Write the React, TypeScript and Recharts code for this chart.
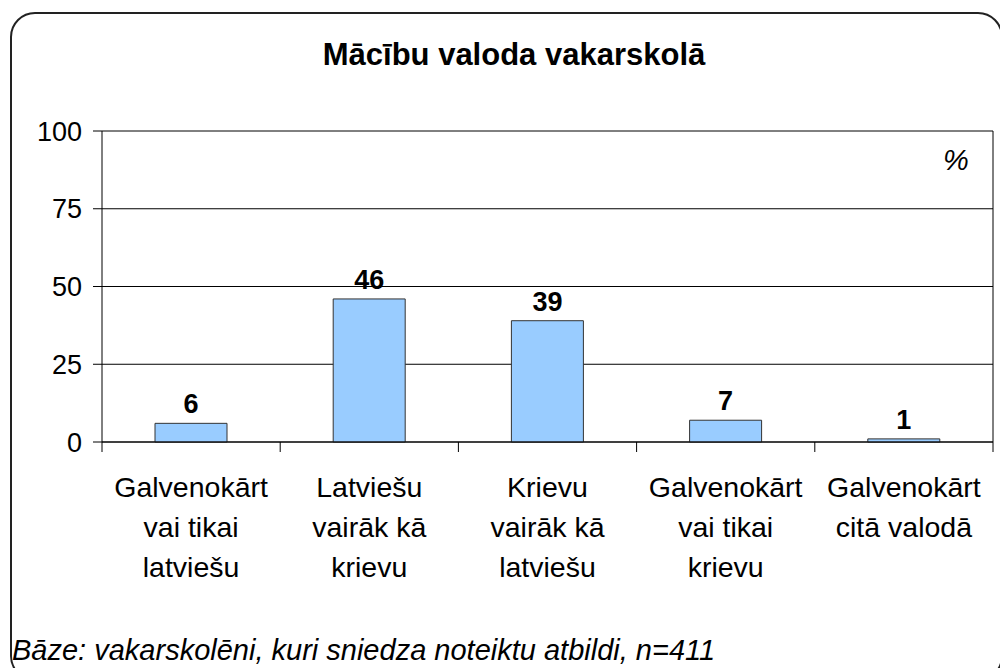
import React from 'react';
import { BarChart, Bar, XAxis, YAxis, CartesianGrid, LabelList } from 'recharts';

const categories = [
  'Galvenokārt\nvai tikai\nlatviešu',
  'Latviešu\nvairāk kā\nkrievu',
  'Krievu\nvairāk kā\nlatviešu',
  'Galvenokārt\nvai tikai\nkrievu',
  'Galvenokārt\ncitā valodā',
];
const values = [6, 46, 39, 7, 1];
const yTicks = [0, 25, 50, 75, 100];
const titleText = 'Mācību valoda vakarskolā';
const unitText = '%';
const footerText = 'Bāze: vakarskolēni, kuri sniedza noteiktu atbildi, n=411';

const data = categories.map((c, i) => ({ name: c, value: values[i] }));

const FONT = "'Liberation Sans', Arial, sans-serif";
const W = 1000;
const H = 668;
const PLOT_LEFT = 102;
const PLOT_RIGHT = 993;
const HALF_BAND = (PLOT_RIGHT - PLOT_LEFT) / categories.length / 2;

const XTick = (props: any) => {
  const { x, y, payload, index } = props;
  const lines = String(payload.value).split('\n');
  const last = index === categories.length - 1;
  return (
    <g>
      <line x1={x - HALF_BAND} x2={x - HALF_BAND} y1={y} y2={y + 10} stroke="#000" strokeWidth={1} />
      {last && <line x1={x + HALF_BAND} x2={x + HALF_BAND} y1={y} y2={y + 10} stroke="#000" strokeWidth={1} />}
      {lines.map((l, i) => (
        <text key={i} x={x} y={y + 55 + i * 40} textAnchor="middle" fontSize={28.5} fontFamily={FONT} fill="#000">
          {l}
        </text>
      ))}
    </g>
  );
};

export default function App() {
  return (
    <div style={{ position: 'absolute', left: 0, top: 0, width: W, height: H, overflow: 'hidden', background: '#fff' }}>
      <div
        style={{
          position: 'absolute',
          left: 10,
          top: 12,
          width: 993,
          height: 669,
          border: '2px solid #222',
          borderRadius: 25,
          boxSizing: 'border-box',
        }}
      />
      <div style={{ position: 'absolute', left: 0, top: 0 }}>
        <BarChart width={W} height={H} data={data} margin={{ top: 131, right: 0, bottom: 0, left: 0 }}>
          <CartesianGrid horizontal vertical={false} stroke="#000" strokeWidth={1} />
          <XAxis
            dataKey="name"
            interval={0}
            height={H - 442}
            tickLine={false}
            tickSize={0}
            tickMargin={0}
            axisLine={{ stroke: '#000' }}
            tick={<XTick />}
          />
          <YAxis
            domain={[0, 100]}
            ticks={yTicks}
            width={PLOT_LEFT}
            tickSize={9}
            tickMargin={11}
            axisLine={{ stroke: '#000' }}
            tickLine={{ stroke: '#000' }}
            tick={{ fill: '#000', fontSize: 27, fontFamily: FONT }}
          />
          <YAxis
            yAxisId="r"
            orientation="right"
            domain={[0, 100]}
            ticks={yTicks}
            width={W - PLOT_RIGHT}
            tick={false}
            tickLine={false}
            axisLine={{ stroke: '#000' }}
          />
          <Bar dataKey="value" fill="#99CCFF" stroke="#333" strokeWidth={1} barSize={72} isAnimationActive={false}>
            <LabelList
              dataKey="value"
              position="top"
              offset={10}
              fill="#000"
              fontSize={27}
              fontWeight="bold"
              fontFamily={FONT}
            />
          </Bar>
        </BarChart>
      </div>
      <svg width={W} height={H} style={{ position: 'absolute', left: 0, top: 0, pointerEvents: 'none' }}>
        <text x={514} y={65} textAnchor="middle" fontSize={31} fontWeight="bold" fontFamily={FONT} fill="#000">
          {titleText}
        </text>
        <text x={943} y={170} fontSize={29} fontStyle="italic" fontFamily={FONT} fill="#000">
          {unitText}
        </text>
        <text x={12} y={660} fontSize={29} fontStyle="italic" fontFamily={FONT} fill="#000">
          {footerText}
        </text>
      </svg>
    </div>
  );
}
